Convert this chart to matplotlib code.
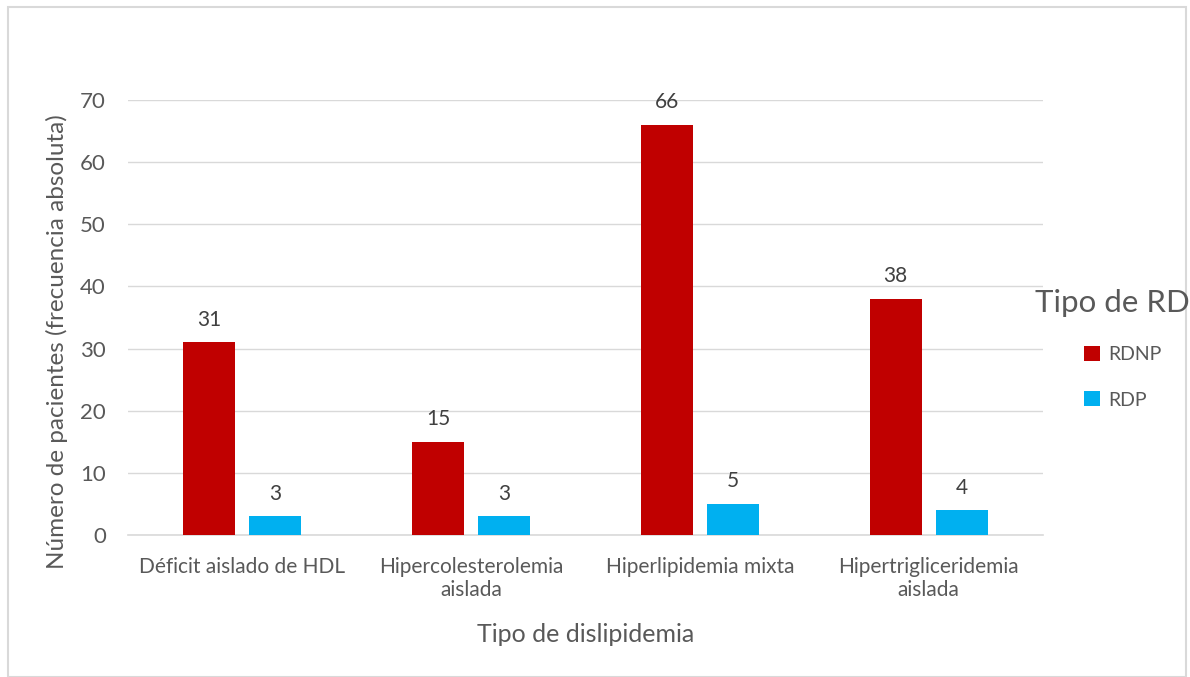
import matplotlib
matplotlib.use("Agg")
import matplotlib.pyplot as plt
from matplotlib.patches import Rectangle
import numpy as np

categories = ["Déficit aislado de HDL", "Hipercolesterolemia\naislada",
              "Hiperlipidemia mixta", "Hipertrigliceridemia\naislada"]
rdnp = [31, 15, 66, 38]
rdp = [3, 3, 5, 4]
series_names = ["RDNP", "RDP"]
yticks = [0, 10, 20, 30, 40, 50, 60, 70]

plt.rcParams['font.family'] = ['Lato', 'DejaVu Sans']
txt = '#595959'
grid = '#d9d9d9'

fig = plt.figure(figsize=(11.9, 6.77), dpi=100)
ax = fig.add_axes([128/1190, 1-535/677, (1043-128)/1190, (535-100)/677])

x = np.arange(len(categories))
w = 0.227
gap = 0.061
off = (w + gap) / 2
b1 = ax.bar(x - off, rdnp, w, color='#c00000', label=series_names[0], zorder=3)
b2 = ax.bar(x + off, rdp, w, color='#00b0f0', label=series_names[1], zorder=3)

for bars, vals in ((b1, rdnp), (b2, rdp)):
    for b, v in zip(bars, vals):
        ax.annotate(str(v), (b.get_x() + b.get_width()/2, v), xytext=(0, 9),
                    textcoords='offset points', ha='center', va='bottom',
                    fontsize=15, color='#404040')

ax.set_xlim(-0.5, len(categories) - 0.5)
ax.set_ylim(0, 70)
ax.set_yticks(yticks)
ax.yaxis.grid(True, color=grid, linewidth=1, zorder=0)
ax.set_axisbelow(True)
for s in ['top', 'right', 'left']:
    ax.spines[s].set_visible(False)
ax.spines['bottom'].set_color(grid)
ax.spines['bottom'].set_linewidth(1.2)
ax.tick_params(axis='x', length=0, labelsize=15, colors=txt, pad=16)
ax.tick_params(axis='y', length=0, labelsize=16, colors=txt, pad=16)
ax.set_xticks(x)
ax.set_xticklabels(categories, linespacing=1.15)
ax.set_xlabel("Tipo de dislipidemia", fontsize=18, color=txt, labelpad=17)

fig.text(57/1190, 1-342/677, "Número de pacientes (frecuencia absoluta)",
         fontsize=17.5, color=txt, rotation=90, ha='center', va='center')

fig.text(1112/1190, 1-303/677, "Tipo de RD", fontsize=22.5, color=txt,
         ha='center', va='center')
leg = fig.legend(handles=[b1, b2], labels=series_names,
                 loc='upper left', bbox_to_anchor=(1084/1190, 1-346/677),
                 frameon=False, fontsize=14, borderaxespad=0, borderpad=0,
                 handlelength=0.8, handleheight=0.8, handletextpad=0.45,
                 labelspacing=1.45)
for t in leg.get_texts():
    t.set_color(txt)

fig.patches.append(Rectangle((8/1190, 0), (1186-8)/1190, 1-7/677,
                             transform=fig.transFigure, fill=False,
                             edgecolor=grid, linewidth=1.5))

fig.savefig("out.png", dpi=100)
